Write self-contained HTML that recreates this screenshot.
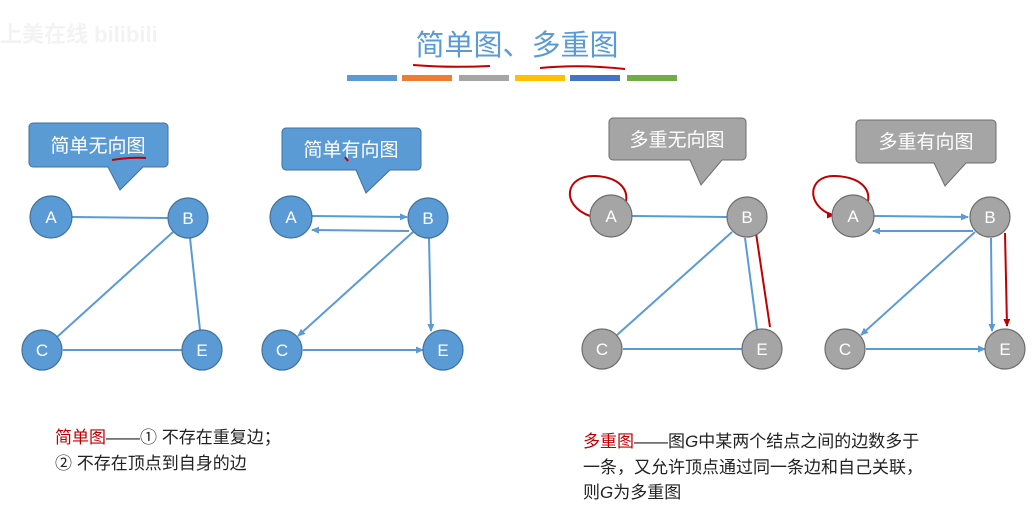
<!DOCTYPE html>
<html><head><meta charset="utf-8"><style>
body{margin:0;background:#fff;width:1032px;height:514px;overflow:hidden}
svg text{font-family:"Liberation Sans","Noto Sans CJK SC",sans-serif}
</style></head><body>
<svg width="1032" height="514" viewBox="0 0 1032 514">
<defs>
<marker id="ab" markerWidth="8" markerHeight="8" refX="7" refY="4" orient="auto" markerUnits="userSpaceOnUse"><path d="M0,0.5 L8,4 L0,7.5z" fill="#5b9bd5"/></marker>
<marker id="ar" markerWidth="8" markerHeight="8" refX="7" refY="4" orient="auto" markerUnits="userSpaceOnUse"><path d="M0,0.5 L8,4 L0,7.5z" fill="#c00000"/></marker>
</defs>
<text x="0" y="42" font-size="22" fill="#f3f3f3" font-weight="bold">上美在线 bilibili</text>
<text x="517" y="55" font-size="29" fill="#5b9bd5" text-anchor="middle">简单图、多重图</text>
<path d="M413,65 Q450,68 490,66" stroke="#c00000" stroke-width="2" fill="none"/>
<path d="M540,68 Q580,64 625,69" stroke="#c00000" stroke-width="2" fill="none"/>
<rect x="347" y="75" width="50" height="6" fill="#5b9bd5"/>
<rect x="402" y="75" width="50" height="6" fill="#ed7d31"/>
<rect x="459" y="75" width="50" height="6" fill="#a5a5a5"/>
<rect x="515" y="75" width="50" height="6" fill="#ffc000"/>
<rect x="570" y="75" width="50" height="6" fill="#4472c4"/>
<rect x="627" y="75" width="50" height="6" fill="#70ad47"/>

<g stroke="#41719c" fill="#5b9bd5">
<path d="M33,123 H164 a4,4 0 0 1 4,4 V163 a4,4 0 0 1 -4,4 H143 L120,190 L108,167 H33 a4,4 0 0 1 -4,-4 V127 a4,4 0 0 1 4,-4z"/>
<path d="M286,128 H417 a4,4 0 0 1 4,4 V166 a4,4 0 0 1 -4,4 H390 L366,193 L356,170 H286 a4,4 0 0 1 -4,-4 V132 a4,4 0 0 1 4,-4z"/>
</g>
<g stroke="#6d6d6d" fill="#a5a5a5">
<path d="M613,118 H742 a4,4 0 0 1 4,4 V156 a4,4 0 0 1 -4,4 H722 L701,185 L690,160 H613 a4,4 0 0 1 -4,-4 V122 a4,4 0 0 1 4,-4z"/>
<path d="M860,120 H992 a4,4 0 0 1 4,4 V159 a4,4 0 0 1 -4,4 H966 L945,186 L934,163 H860 a4,4 0 0 1 -4,-4 V124 a4,4 0 0 1 4,-4z"/>
</g>
<g font-size="19" fill="#fff" text-anchor="middle">
<text x="98" y="152">简单无向图</text>
<text x="351" y="156">简单有向图</text>
<text x="677" y="146">多重无向图</text>
<text x="926" y="148">多重有向图</text>
</g>
<path d="M112,160 Q130,157 146,158" stroke="#c00000" stroke-width="2" fill="none"/>
<path d="M345,157 l3,4" stroke="#c00000" stroke-width="2" fill="none"/>

<g stroke="#5b9bd5" stroke-width="2" fill="none">
<line x1="72" y1="217" x2="168" y2="218"/>
<line x1="173" y1="232" x2="57" y2="337"/>
<line x1="190" y1="238" x2="200" y2="330"/>
<line x1="63" y1="350" x2="182" y2="350"/>
<line x1="312" y1="216" x2="407" y2="217" marker-end="url(#ab)"/>
<line x1="409" y1="231" x2="312" y2="230" marker-end="url(#ab)"/>
<line x1="413" y1="232" x2="298" y2="336" marker-end="url(#ab)"/>
<line x1="429" y1="238" x2="431" y2="331" marker-end="url(#ab)"/>
<line x1="303" y1="350" x2="423" y2="350" marker-end="url(#ab)"/>
<line x1="632" y1="216" x2="727" y2="217"/>
<line x1="732" y1="232" x2="617" y2="335"/>
<line x1="745" y1="238" x2="757" y2="329"/>
<line x1="623" y1="349" x2="742" y2="349"/>
<line x1="874" y1="216" x2="968" y2="217" marker-end="url(#ab)"/>
<line x1="973" y1="231" x2="873" y2="231" marker-end="url(#ab)"/>
<line x1="975" y1="232" x2="861" y2="335" marker-end="url(#ab)"/>
<line x1="991" y1="238" x2="992" y2="331" marker-end="url(#ab)"/>
<line x1="866" y1="349" x2="985" y2="349" marker-end="url(#ab)"/>
</g>
<g stroke="#c00000" stroke-width="2" fill="none">
<path d="M590,216 C560,205 565,175 595,176 C620,177 628,190 626,201"/>
<line x1="756" y1="233" x2="770" y2="327"/>
<path d="M832,215 C805,205 808,175 835,176 C862,177 870,190 868,201"/>
<path d="M832,215 l2,0" marker-end="url(#ar)"/>
<line x1="1005" y1="233" x2="1007" y2="326" marker-end="url(#ar)"/>
</g>

<g stroke="#41719c" stroke-width="1.2" fill="#5b9bd5">
<circle cx="51" cy="217" r="21"/><circle cx="188" cy="218" r="20"/><circle cx="42" cy="350" r="20"/><circle cx="202" cy="350" r="20"/>
<circle cx="291" cy="217" r="21"/><circle cx="428" cy="218" r="20"/><circle cx="282" cy="350" r="20"/><circle cx="443" cy="350" r="20"/>
</g>
<g stroke="#6d6d6d" stroke-width="1.2" fill="#a5a5a5">
<circle cx="611" cy="216" r="21"/><circle cx="747" cy="217" r="20"/><circle cx="602" cy="349" r="20"/><circle cx="762" cy="349" r="20"/>
<circle cx="853" cy="216" r="21"/><circle cx="990" cy="217" r="20"/><circle cx="845" cy="349" r="20"/><circle cx="1005" cy="349" r="20"/>
</g>
<g font-size="17" fill="#fff" text-anchor="middle">
<text x="51" y="223">A</text><text x="188" y="224">B</text><text x="42" y="356">C</text><text x="202" y="356">E</text>
<text x="291" y="223">A</text><text x="428" y="224">B</text><text x="282" y="356">C</text><text x="443" y="356">E</text>
<text x="611" y="222">A</text><text x="747" y="223">B</text><text x="602" y="355">C</text><text x="762" y="355">E</text>
<text x="853" y="222">A</text><text x="990" y="223">B</text><text x="845" y="355">C</text><text x="1005" y="355">E</text>
</g>

<g font-size="17" fill="#222">
<text x="55" y="443"><tspan fill="#c00000">简单图</tspan>——① 不存在重复边；</text>
<text x="55" y="469">② 不存在顶点到自身的边</text>
<text x="583" y="447"><tspan fill="#c00000">多重图</tspan>——图<tspan font-style="italic">G</tspan>中某两个结点之间的边数多于</text>
<text x="583" y="473">一条，又允许顶点通过同一条边和自己关联，</text>
<text x="583" y="498">则<tspan font-style="italic">G</tspan>为多重图</text>
</g>
</svg>
</body></html>
